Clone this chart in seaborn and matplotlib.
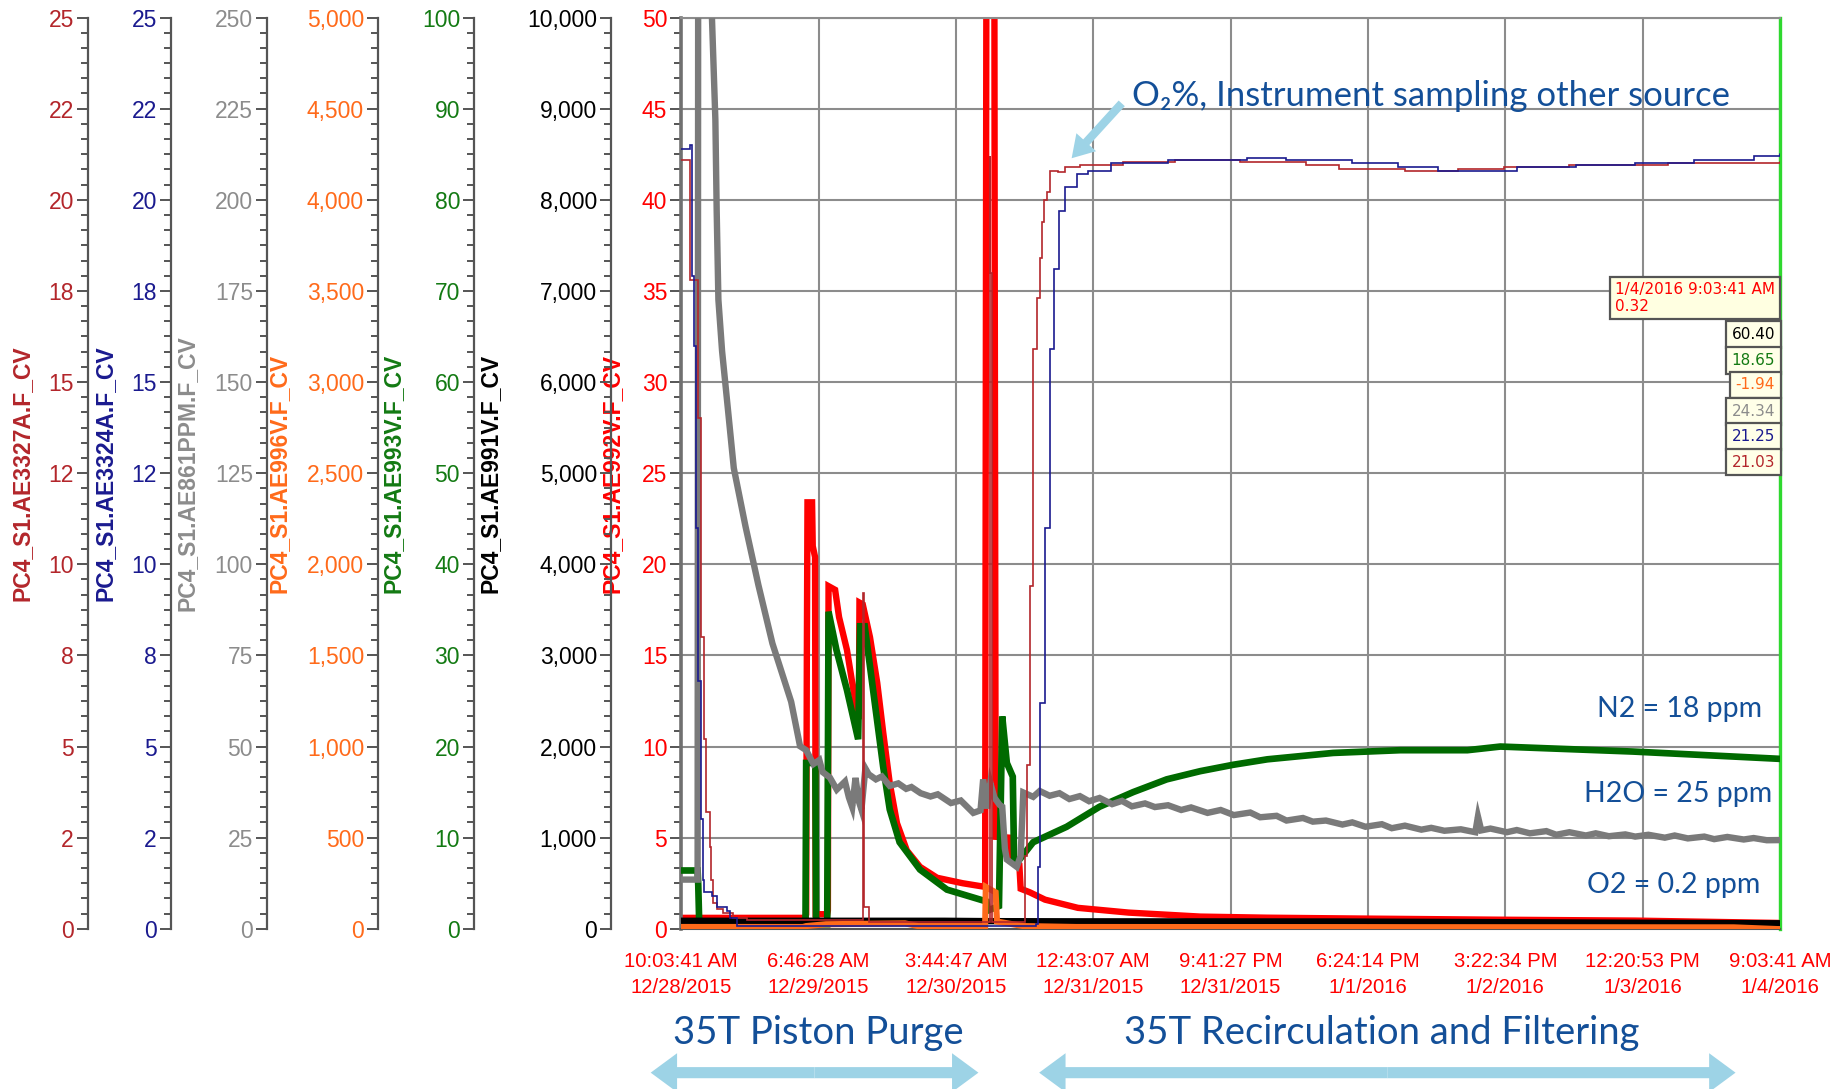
import numpy as np
import pandas as pd
import matplotlib
matplotlib.use("Agg")
import matplotlib.pyplot as plt
import seaborn as sns
from matplotlib import font_manager
from matplotlib.font_manager import FontProperties
from matplotlib.ticker import MultipleLocator, AutoMinorLocator, FuncFormatter
from matplotlib.patches import FancyArrowPatch

sns.set_style("white")

# time axis: hours after 10:03:41 AM 12/28/2015 (window is 167 h long)
span_hours = 167
xtick_labels = ["10:03:41 AM\n12/28/2015", "6:46:28 AM\n12/29/2015", "3:44:47 AM\n12/30/2015",
                "12:43:07 AM\n12/31/2015", "9:41:27 PM\n12/31/2015", "6:24:14 PM\n1/1/2016",
                "3:22:34 PM\n1/2/2016", "12:20:53 PM\n1/3/2016", "9:03:41 AM\n1/4/2016"]

# PC4_S1.AE992V.F_CV  (red, 0-50)
red_h = [0, 18.9, 19.0, 19.1, 19.2, 19.9, 20.0, 20.35, 20.45, 22.2, 22.3, 22.4, 23.4, 24.0, 25.2, 26.0,
         26.7, 27.0, 27.1, 27.6, 28.7, 29.8, 30.7, 31.7, 32.8, 34.3, 36.3, 38.9, 42.8, 46.2, 46.4,
         47.6, 47.65, 47.8, 49.9, 50.1, 51.4, 51.6, 53.0, 55.3, 60.3, 68.0, 78.9, 89.0, 104.0,
         124.0, 145.0, 167.0]
red_v = [0.6, 0.6, 0.8, 14.8, 23.4, 23.4, 21.0, 20.4, 0.8, 0.8, 1.0, 18.8, 18.6, 17.1, 15.3, 13.5,
         12.0, 11.5, 17.9, 17.8, 16.0, 13.5, 10.8, 8.0, 5.8, 4.3, 3.4, 2.8, 2.5, 2.3, 55.0,
         55.0, 38.0, 5.05, 5.0, 3.7, 3.5, 2.2, 2.0, 1.6, 1.15, 0.89, 0.67, 0.61, 0.56,
         0.5, 0.45, 0.32]

# PC4_S1.AE993V.F_CV  (green, 0-100) -> N2
green_h = [0, 2.5, 2.6, 2.75, 18.9, 19.0, 20.4, 20.5, 22.2, 22.4, 23.6, 25.2, 26.9, 27.2, 27.9, 28.7,
           29.7, 30.7, 31.7, 33.2, 36.3, 40.4, 46.4, 46.6, 48.3, 48.8, 49.5, 50.4, 50.6, 51.2, 53.5,
           58.6, 63.6, 68.7, 73.8, 78.9, 83.9, 89.1, 99.1, 109.3, 119.5, 124.5, 144.7, 167.0]
green_v = [6.4, 6.4, 4.8, 0.5, 0.5, 18.2, 18.2, 0.5, 0.5, 34.8, 30.6, 26.2, 20.8, 33.2, 33.2, 28.8,
           23.3, 17.8, 13.1, 9.5, 6.5, 4.3, 3.0, 2.0, 2.5, 23.3, 18.2, 16.7, 7.6, 7.4, 9.5,
           11.2, 13.4, 15.0, 16.4, 17.3, 18.0, 18.6, 19.3, 19.6, 19.6, 20.0, 19.45, 18.65]

# PC4_S1.AE996V.F_CV  (orange, 0-5000)
orange_h = [0, 18.5, 19.0, 22.0, 34.0, 36.0, 46.2, 46.3, 47.8, 48.0, 52.0, 60.0, 160.0, 167.0]
orange_v = [10, 10, 15, 25, 30, 15, 15, 230, 200, 40, 15, 10, 8, -1.94]

# PC4_S1.AE991V.F_CV  (black, 0-10000)
black_h = [0, 40, 47, 60, 100, 167]
black_v = [88, 88, 84, 82, 80, 60.4]

# PC4_S1.AE861PPM.F_CV  (gray, 0-250) -> H2O ppm
gray_h = [0, 2.5, 2.6, 4.6, 4.68, 5.2, 5.4, 5.66, 6.22, 7.11,
          8.0, 9.78, 11.74, 13.87, 16.72, 18.07, 19.0, 20.1, 21.0, 21.5,
          22.6, 23.65, 24.9, 25.5, 26.0, 26.5, 27.0, 27.4, 28.0, 28.5,
          29.6, 30.5, 31.7, 33.0, 34.2, 35.0, 36.4, 37.9, 39.0, 41.0,
          42.5, 44.4, 45.5, 45.9, 46.5, 47.0, 47.6, 48.4, 48.8, 49.2,
          49.5, 51.0, 51.6, 52.0, 53.5, 54.5, 56.0, 57.5, 59.0, 60.6,
          62.0, 63.6, 65.5, 67.0, 68.5, 70.5, 72.0, 74.0, 76.0, 77.5,
          80.0, 82.0, 84.0, 86.5, 88.0, 90.5, 92.0, 94.5, 96.0, 98.0,
          100.5, 102.0, 104.0, 106.5, 108.0, 110.0, 112.5, 114.0, 116.0, 118.5,
          120.7, 121.1, 121.6, 123.0, 125.5, 127.0, 129.0, 131.5, 133.0, 135.0,
          137.5, 139.0, 141.0, 143.5, 145.0, 147.0, 149.5, 151.0, 153.0, 155.5,
          157.0, 159.0, 161.5, 163.0, 165.0, 167.0]
gray_v = [13.5, 13.5, 300, 300, 250, 222, 197, 172.6, 158.5, 142.5,
          126.4, 110.4, 94.3, 78.3, 62.3, 50.1, 49.0, 45.2, 46.3, 43.0,
          41.5, 38.2, 40.4, 36.0, 33.4, 41.4, 35.0, 32.7, 44.0, 42.4,
          41.0, 41.8, 39.2, 39.9, 38.4, 38.9, 37.2, 36.3, 36.9, 34.5,
          35.2, 31.8, 32.5, 41.0, 33.0, 40.0, 36.0, 34.0, 33.5, 22.0,
          19.0, 17.0, 20.0, 37.4, 36.2, 37.8, 36.5, 37.2, 35.6, 36.4,
          35.0, 35.9, 34.2, 35.1, 33.6, 34.4, 33.4, 33.9, 32.6, 33.3,
          31.8, 32.6, 31.2, 31.9, 30.6, 31.0, 29.7, 30.4, 29.4, 29.7,
          28.6, 29.2, 28.0, 28.7, 27.6, 28.3, 27.2, 27.7, 26.9, 27.3,
          26.5, 30.8, 27.0, 27.5, 26.5, 27.1, 26.2, 26.8, 25.8, 26.5,
          25.6, 26.2, 25.4, 25.9, 25.3, 25.8, 25.0, 25.6, 24.8, 25.3,
          24.6, 25.2, 24.5, 24.9, 24.3, 24.34]

# PC4_S1.AE3327A.F_CV  (dark red, 0-25) -> O2 %
dred_h = [0, 1.3, 2.6, 3.0, 3.5, 3.85, 4.35, 4.6, 4.8, 5.4, 6.3, 7.9, 10.0, 16.0, 27.7, 27.75, 28.1,
          28.5, 46.9, 47.0, 47.3, 47.4, 52.3, 52.6, 53.0, 53.5, 54.1, 54.5, 54.9, 55.2, 55.6, 56.1,
          57.3, 58.3, 60.6, 67.2, 75.0, 85.0, 95.0, 100.0, 110.0, 118.0, 125.0, 135.0, 150.0, 167.0]
dred_v = [21.1, 17.8, 14.0, 8.0, 5.2, 3.2, 2.25, 1.35, 0.72, 0.53, 0.44, 0.3, 0.25, 0.25, 9.2, 0.6, 0.6,
          0.2, 21.2, 18.0, 0.2, 0.2, 2.0, 4.5, 9.4, 15.9, 17.3, 18.4, 19.4, 20.0, 20.2, 20.8,
          20.75, 20.9, 20.95, 21.05, 21.1, 21.05, 20.95, 20.85, 20.8, 20.85, 20.9, 20.95, 21.0, 21.03]

# PC4_S1.AE3324A.F_CV  (navy, 0-25) -> O2 %
navy_h = [0, 1.4, 1.6, 1.7, 2.0, 2.3, 2.6, 3.0, 3.3, 3.5, 4.7, 5.4, 6.9, 7.5, 8.5, 53.9, 54.2, 54.6,
          55.3, 56.0, 56.6, 57.4, 58.3, 60.1, 61.9, 65.4, 74.0, 86.0, 92.0, 102.0, 109.0, 115.0,
          127.0, 136.0, 145.0, 154.0, 163.0, 167.0]
navy_v = [21.4, 21.5, 21.4, 17.9, 16.0, 11.0, 6.8, 3.0, 1.35, 1.0, 0.9, 0.6, 0.5, 0.3, 0.08, 0.13, 1.7, 6.2,
          11.0, 15.9, 18.1, 19.7, 20.35, 20.7, 20.8, 21.0, 21.1, 21.15, 21.1, 21.0, 20.9, 20.8,
          20.9, 20.95, 21.0, 21.1, 21.2, 21.25]

cursor_vals = ["60.40", "18.65", "-1.94", "24.34", "21.25", "21.03"]


def has_font(name):
    try:
        font_manager.findfont(FontProperties(family=name), fallback_to_default=False)
        return True
    except ValueError:
        return False


arial = "Liberation Sans" if has_font("Liberation Sans") else "DejaVu Sans"
calib = "Lato" if has_font("Lato") else "DejaVu Sans"
plt.rcParams["font.family"] = [arial, "DejaVu Sans"]

W_PX, H_PX = 1835, 1089
fig = plt.figure(figsize=(W_PX / 100, H_PX / 100), dpi=100)
L, B, W, H = 0.3712, 0.1471, 0.5988, 0.8368
ax = fig.add_axes([L, B, W, H])

TICKC = "#555555"
GRIDC = "#8c8c8c"


def fmt_int(v, pos):
    return "%.0f" % v


def fmt_comma(v, pos):
    return "{:,.0f}".format(v)


def style_y(a, top, step, fmt, lcol, label, lab_x):
    a.set_ylim(0, top)
    a.yaxis.set_major_locator(MultipleLocator(step))
    a.yaxis.set_minor_locator(AutoMinorLocator(6))
    a.yaxis.set_major_formatter(FuncFormatter(fmt))
    a.tick_params(axis="y", which="both", direction="out", color=TICKC, width=1.4,
                  labelcolor=lcol, labelsize=16.5, pad=2)
    a.tick_params(axis="y", which="major", length=8)
    a.tick_params(axis="y", which="minor", length=5)
    a.set_ylabel(label, color=lcol, fontsize=16.5, fontweight="bold")
    a.yaxis.set_label_coords((lab_x - L) / W, 0.5)


def line(a, h, v, color, lw, steps=False):
    d = pd.DataFrame({"h": h, "v": v})
    sns.lineplot(data=d, x="h", y="v", ax=a, color=color, lw=lw, estimator=None, sort=False,
                 drawstyle="steps-post" if steps else "default", solid_joinstyle="miter")


# main (red) axis
ax.set_xlim(0, span_hours)
line(ax, red_h, red_v, "#ff0000", 4.6)
style_y(ax, 50, 5, fmt_int, "#ff0000", "PC4_S1.AE992V.F_CV", 0.3399)
ax.set_xlabel("")
ax.set_xticks(np.linspace(0, span_hours, 9))
ax.set_xticklabels(xtick_labels, color="#ff0000", fontsize=14.6, linespacing=1.45)
ax.xaxis.set_minor_locator(AutoMinorLocator(9))
ax.tick_params(axis="x", which="both", direction="out", color=TICKC, width=1.4, pad=8)
ax.tick_params(axis="x", which="major", length=9)
ax.tick_params(axis="x", which="minor", length=5.5)
ax.grid(True, which="major", color=GRIDC, lw=1.5)
ax.set_axisbelow(True)
ax.spines["left"].set_color("#707070")
ax.spines["left"].set_linewidth(2.6)
ax.spines["bottom"].set_color(TICKC)
ax.spines["bottom"].set_linewidth(1.5)
ax.spines["top"].set_color(GRIDC)
ax.spines["top"].set_linewidth(1.5)
ax.spines["right"].set_color("#2fd82f")
ax.spines["right"].set_linewidth(2.4)

# extra scales: (h, v, line colour, label colour, top, step, fmt, label, spine x, label x, lw, steps)
extra = [
    (green_h, green_v, "#006a00", "#137a13", 100, 10, fmt_int, "PC4_S1.AE993V.F_CV", 0.2583, 0.2205, 4.8, False),
    (black_h, black_v, "#000000", "#000000", 10000, 1000, fmt_comma, "PC4_S1.AE991V.F_CV", 0.3329, 0.2735, 4.6, False),
    (orange_h, orange_v, "#ff6a1a", "#ff6a1a", 5000, 500, fmt_comma, "PC4_S1.AE996V.F_CV", 0.2060, 0.1585, 4.4, False),
    (gray_h, gray_v, "#7a7a7a", "#8c8c8c", 250, 25, fmt_int, "PC4_S1.AE861PPM.F_CV", 0.1454, 0.1080, 4.6, False),
    (dred_h, dred_v, "#b3262b", "#b3262b", 25, 2.5, fmt_int, "PC4_S1.AE3327A.F_CV", 0.0478, 0.0185, 1.2, True),
    (navy_h, navy_v, "#1a1a8f", "#1a1a8f", 25, 2.5, fmt_int, "PC4_S1.AE3324A.F_CV", 0.0931, 0.0635, 1.2, True),
]
for h, v, lc, tc, top, step, fmt, lab, sx, lx, lw, steps in extra:
    tw = ax.twinx()
    line(tw, h, v, lc, lw, steps)
    tw.set_xlim(0, span_hours)
    for s in ["top", "right", "bottom"]:
        tw.spines[s].set_visible(False)
    tw.spines["left"].set_visible(True)
    tw.spines["left"].set_position(("axes", (sx - L) / W))
    tw.spines["left"].set_color(TICKC)
    tw.spines["left"].set_linewidth(1.6)
    tw.yaxis.set_ticks_position("left")
    tw.yaxis.set_label_position("left")
    style_y(tw, top, step, fmt, tc, lab, lx)

# cursor value boxes at the right edge
ax.text(0.9955, 0.7095, "1/4/2016 9:03:41 AM\n0.32", transform=ax.transAxes, ha="right", va="top",
        color="#ff0000", fontsize=11, fontfamily="DejaVu Sans", multialignment="left", zorder=20,
        linespacing=1.15, bbox=dict(boxstyle="square,pad=0.32", fc="#ffffe1", ec="#555555", lw=1.6))
box_cols = ["#000000", "#137a13", "#ff6a1a", "#8c8c8c", "#1a1a8f", "#b3262b"]
box_y = [0.6521, 0.6239, 0.5969, 0.5674, 0.5404, 0.5122]
for val, col, yy in zip(cursor_vals, box_cols, box_y):
    ax.text(0.9955, yy, val, transform=ax.transAxes, ha="right", va="center", color=col,
            fontsize=11, fontfamily="DejaVu Sans", zorder=20,
            bbox=dict(boxstyle="square,pad=0.38", fc="#ffffe8", ec="#555555", lw=1.6))

# slide annotations
TXT = "#134f98"
ARR = "#9dd3e6"
fig.text(0.6167, 0.9119, "O\u2082%, Instrument sampling other source", color=TXT, fontsize=25,
         family=[calib, "DejaVu Sans"], ha="left", va="center")
fig.text(0.9605, 0.3491, "N2 = 18 ppm", color=TXT, fontsize=20.5, family=calib, ha="right", va="center")
fig.text(0.9656, 0.2707, "H2O = 25 ppm", color=TXT, fontsize=20.5, family=calib, ha="right", va="center")
fig.text(0.9592, 0.1869, "O2 = 0.2 ppm", color=TXT, fontsize=20.5, family=calib, ha="right", va="center")
fig.text(0.4461, 0.0516, "35T Piston Purge", color=TXT, fontsize=27.5, family=calib, ha="center", va="center")
fig.text(0.7532, 0.0516, "35T Recirculation and Filtering", color=TXT, fontsize=27.5, family=calib,
         ha="center", va="center")


def fig_arrow(x0, y0, x1, y1, scale, hl, hw, tw):
    style = "simple,head_length=%g,head_width=%g,tail_width=%g" % (hl, hw, tw)
    p = FancyArrowPatch((x0, y0), (x1, y1), transform=fig.transFigure, arrowstyle=style,
                        mutation_scale=scale, color=ARR, shrinkA=0, shrinkB=0, lw=0)
    fig.patches.append(p)


for xa, xb in [(0.3546, 0.5332), (0.5663, 0.9458)]:
    mid = (xa + xb) / 2
    fig_arrow(mid, 0.0150, xa, 0.0150, 20, 0.95, 1.4, 0.4)
    fig_arrow(mid, 0.0150, xb, 0.0150, 20, 0.95, 1.4, 0.4)
fig_arrow(0.6113, 0.9051, 0.5840, 0.8547, 12, 1.3, 1.6, 0.5)

fig.savefig("out.png", dpi=100)
